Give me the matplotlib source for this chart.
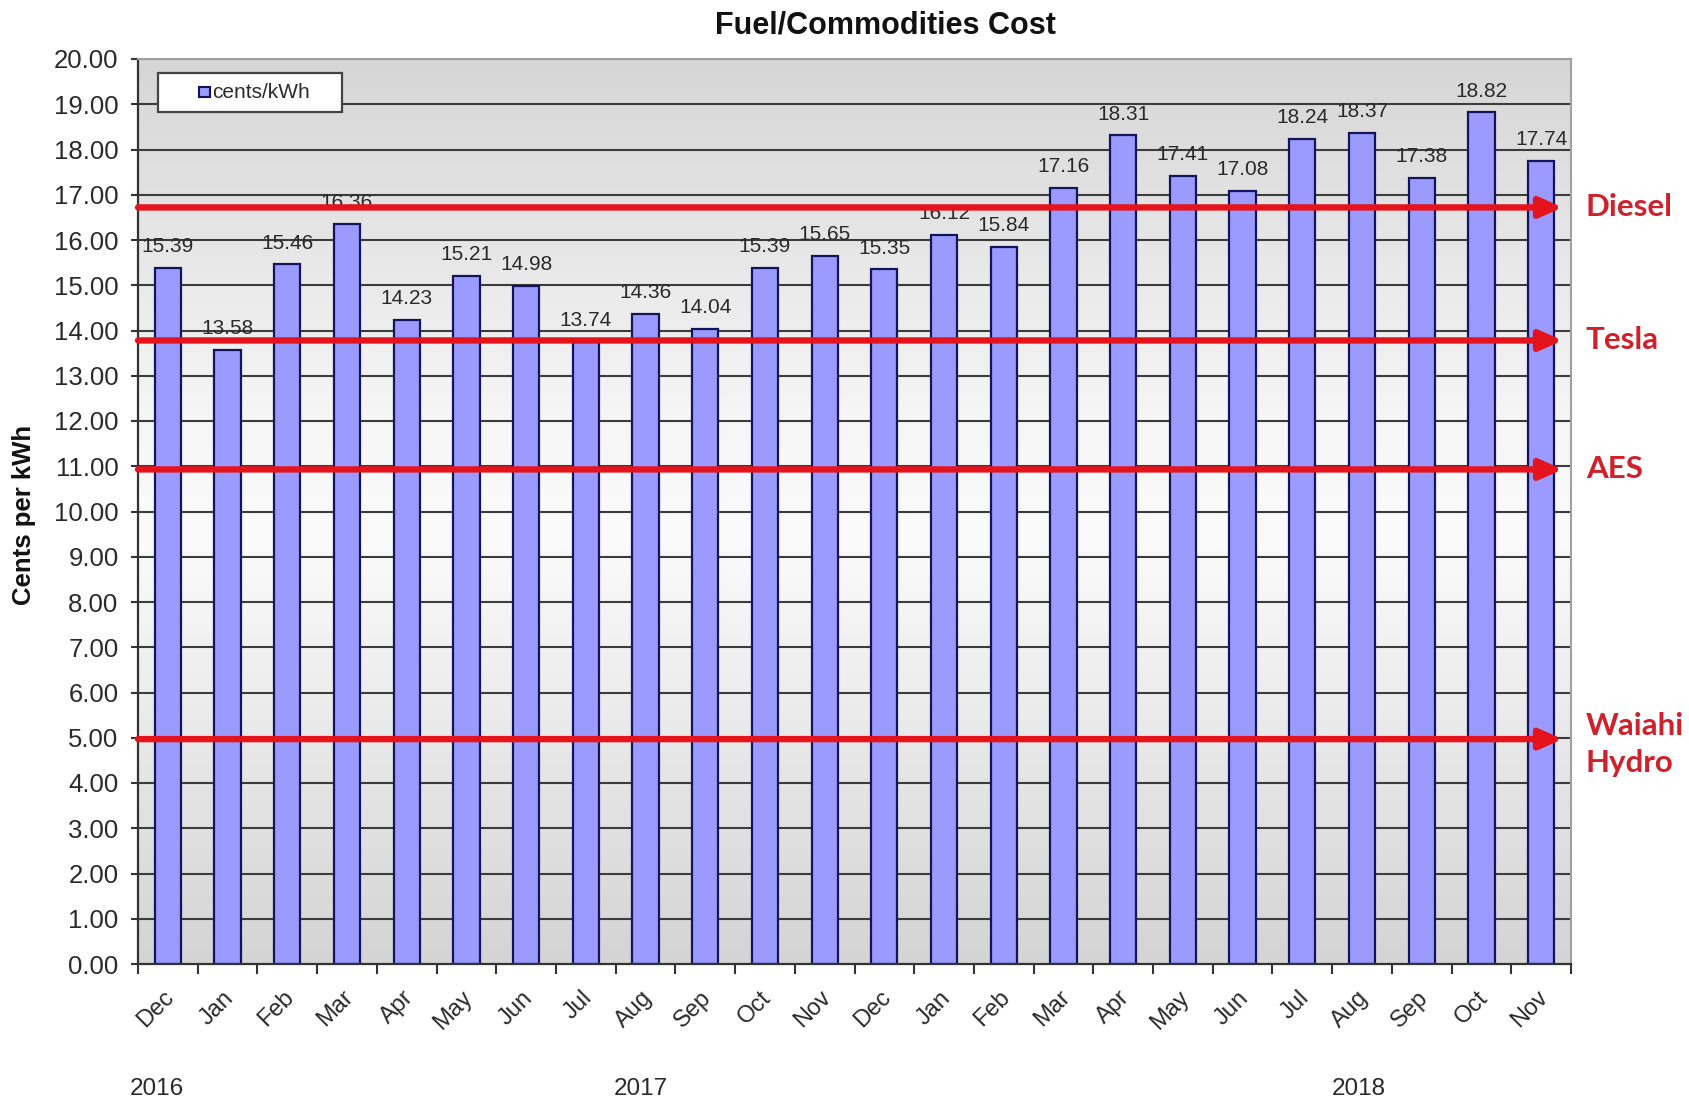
import numpy as np
import matplotlib
matplotlib.use("Agg")
import matplotlib.pyplot as plt
from matplotlib.patches import Rectangle
from matplotlib.colors import LinearSegmentedColormap

months = ["Dec", "Jan", "Feb", "Mar", "Apr", "May", "Jun", "Jul", "Aug", "Sep", "Oct", "Nov",
          "Dec", "Jan", "Feb", "Mar", "Apr", "May", "Jun", "Jul", "Aug", "Sep", "Oct", "Nov"]
values = [15.39, 13.58, 15.46, 16.36, 14.23, 15.21, 14.98, 13.74, 14.36, 14.04, 15.39, 15.65,
          15.35, 16.12, 15.84, 17.16, 18.31, 17.41, 17.08, 18.24, 18.37, 17.38, 18.82, 17.74]
years = ["2016", "2017", "2018"]
year_pos = [-0.13, 7.97, 20.0]   # category position of year labels (left edge)
ref_names = ["Diesel", "Tesla", "AES", "Waiahi\nHydro"]
ref_values = [16.72, 13.78, 10.93, 4.97]
legend_label = "cents/kWh"

plt.rcParams['font.family'] = ['Liberation Sans', 'DejaVu Sans']

fig = plt.figure(figsize=(16.89, 11.05), dpi=100)
ax = fig.add_axes([138/1689, 1 - 964/1105, (1571-138)/1689, (964-59)/1105])

n = len(values)
x = np.arange(n) + 0.5
ax.set_xlim(0, n)

# background gradient
cmap = LinearSegmentedColormap.from_list("bg", [(0, "#d4d4d4"), (0.47, "#fbfbfb"), (0.6, "#f6f6f6"), (1, "#d6d6d6")])
grad = np.linspace(0, 1, 256).reshape(-1, 1)
ax.imshow(grad, cmap=cmap, aspect='auto', extent=(0, n, 20, 0), zorder=0, origin='upper')
ax.set_ylim(0, 20)

# grid
for yv in range(1, 21):
    ax.axhline(yv, color="#3c3c3c", lw=1.5, zorder=1)

ax.bar(x, values, width=0.44, color="#9a9aff", edgecolor="#14145a", linewidth=1.6, zorder=2)

for xi, v in zip(x, values):
    ax.text(xi, v + 0.47, f"{v:.2f}", ha='center', va='center', fontsize=15, color="#2a2a2a", zorder=3)

# reference arrows
for name, rv in zip(ref_names, ref_values):
    ax.annotate("", xy=(23.86, rv), xytext=(0, rv),
                arrowprops=dict(arrowstyle="-|>,head_length=0.9,head_width=0.4", mutation_scale=15,
                                lw=4.6, color="#e5141c", shrinkA=0, shrinkB=0),
                zorder=4, annotation_clip=False)
    dy = -0.12 if "\n" in name else 0.0
    ax.text(24.25, rv + dy, name, ha='left', va='center', fontsize=22.5, fontweight='bold',
            color="#d0202a", family=['Lato', 'DejaVu Sans'], linespacing=1.42, clip_on=False)

# axes styling
ax.set_yticks(np.arange(0, 21, 1))
ax.set_yticklabels([f"{v:.2f}" for v in np.arange(0, 21, 1)], fontsize=18.5, color="#2a2a2a")
ax.tick_params(axis='y', length=5, width=1.5, color="#333333", pad=9)
ax.set_xticks(np.arange(0, n + 1))
ax.set_xticklabels([])
ax.tick_params(axis='x', length=7, width=1.5, color="#333333")

for xi, m in zip(x, months):
    ax.text(xi - 0.08, -0.5, m, rotation=45, ha='right', va='top', rotation_mode='anchor',
            fontsize=17, color="#2a2a2a")

for yl, yp in zip(years, year_pos):
    ax.text(yp, -0.138, yl, transform=ax.get_xaxis_transform(), ha='left', va='center',
            fontsize=17.5, color="#2a2a2a")

for s in ['left', 'bottom']:
    ax.spines[s].set_color("#333333")
    ax.spines[s].set_linewidth(1.6)
for s in ['top', 'right']:
    ax.spines[s].set_color("#a0a0a0")
    ax.spines[s].set_linewidth(1.5)

fig.text(24/1689, 1 - 515/1105, "Cents per kWh", rotation=90, ha='center', va='center',
         fontsize=18.5, fontweight='bold', color="#111111")
fig.text(885/1689, 1 - 25/1105, "Fuel/Commodities Cost", ha='center', va='center',
         fontsize=22, fontweight='bold', color="#111111")

# legend box (drawn manually to match the reference layout)
ax.add_patch(Rectangle((0.014, 0.9414), 0.1284, 0.0431, transform=ax.transAxes, facecolor="white",
                       edgecolor="#444444", lw=1.6, zorder=5, clip_on=False))
ax.add_patch(Rectangle((0.0426, 0.958), 0.0076, 0.011, transform=ax.transAxes, facecolor="#9a9aff",
                       edgecolor="#14145a", lw=1.5, zorder=6, clip_on=False))
ax.text(0.0516, 0.9635, legend_label, transform=ax.transAxes, ha='left', va='center', fontsize=15,
        color="#2a2a2a", zorder=6)

fig.savefig("out.png", dpi=100)
